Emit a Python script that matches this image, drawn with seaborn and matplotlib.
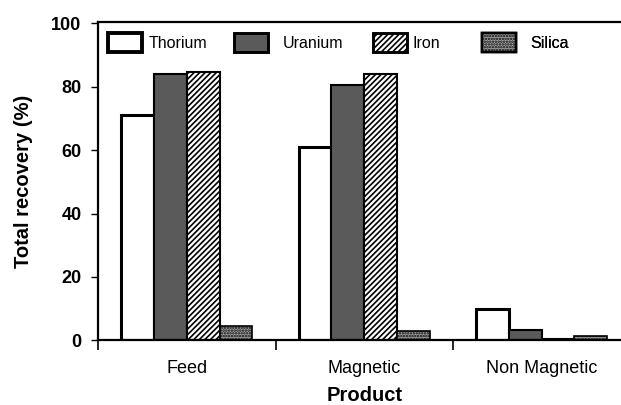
import matplotlib
matplotlib.use("Agg")
import matplotlib.pyplot as plt
import seaborn as sns
import pandas as pd
from matplotlib.patches import Patch

# Recovery of each element into each product stream
products = ["Feed", "Magnetic", "Non Magnetic"]
elements = ["Thorium", "Uranium", "Iron", "Silica"]
thorium = [71.0, 60.9, 10.0]
uranium = [84.0, 80.5, 3.2]
iron = [84.7, 84.0, 0.5]
silica = [4.5, 2.9, 1.2]

series = {"Thorium": thorium, "Uranium": uranium, "Iron": iron, "Silica": silica}
df = pd.DataFrame(
    [(p, el, v) for el in elements for p, v in zip(products, series[el])],
    columns=["Product", "Element", "Recovery"],
)

sns.set_theme(style="white")
plt.rcParams["font.family"] = ["Liberation Sans", "DejaVu Sans"]
plt.rcParams["hatch.linewidth"] = 1.2
for key in ["text.color", "axes.labelcolor", "xtick.color", "ytick.color"]:
    plt.rcParams[key] = "black"

fig = plt.figure(figsize=(6.21, 4.05), dpi=100)
ax = fig.add_axes([0.158, 0.160, 0.857, 0.786])

styles = {
    "Thorium": dict(fc="white", hatch=None, lw=2.2),
    "Uranium": dict(fc="#5a5a5a", hatch=None, lw=1.5),
    "Iron": dict(fc="white", hatch="//////", lw=1.5),
    "Silica": dict(fc="#a8a8a8", hatch="......", lw=1.2),
}

sns.barplot(data=df, x="Product", y="Recovery", hue="Element",
            hue_order=elements, order=products, width=0.74,
            palette=["white"] * 4, legend=False, ax=ax, saturation=1)

for el, cont in zip(elements, ax.containers):
    st = styles[el]
    for bar in cont:
        bar.set_facecolor(st["fc"])
        bar.set_edgecolor("black")
        bar.set_linewidth(st["lw"])
        if st["hatch"]:
            bar.set_hatch(st["hatch"])

ax.set_xlim(-0.5, 2.5)
ax.set_ylim(0, 100.5)
ax.set_yticks([0, 20, 40, 60, 80, 100])
ax.set_yticklabels(["0", "20", "40", "60", "80", "100"], fontweight="bold", fontsize=13)
ax.set_xticks(range(len(products)))
ax.set_xticklabels(products, fontsize=13)
ax.set_xticks([-0.5, 0.5, 1.5], minor=True)
ax.tick_params(axis="x", which="major", length=0, pad=14.5)
ax.tick_params(axis="x", which="minor", length=7, width=1.2, direction="out", bottom=True)
ax.tick_params(axis="y", which="major", length=5, width=1.0, direction="out", left=True, pad=7)

ax.set_xlabel("Product", fontweight="bold", fontsize=14.5, labelpad=6.5)
ax.set_ylabel("Total recovery (%)", fontweight="bold", fontsize=14.5, labelpad=13)

for side in ["left", "bottom", "top"]:
    ax.spines[side].set_visible(True)
    ax.spines[side].set_color("black")
    ax.spines[side].set_linewidth(1.6)
ax.spines["right"].set_visible(False)

# One legend entry per element, laid out across the top of the plot area
W, H = 621.0, 405.0
entry_x = [108, 234, 373, 482]
text_pad = [0.45, 0.95, 0.35, 0.95]
for el, x0, pad in zip(elements, entry_x, text_pad):
    st = styles[el]
    h = Patch(facecolor=st["fc"], edgecolor="black", hatch=st["hatch"],
              linewidth=st["lw"] + 0.6, label=el)
    leg = ax.legend(handles=[h], loc="upper left",
                    bbox_to_anchor=(x0 / W, 1 - 33 / H), bbox_transform=fig.transFigure,
                    frameon=False, fontsize=11.5, handlelength=2.1, handleheight=1.45,
                    handletextpad=pad, borderpad=0, borderaxespad=0)
    ax.add_artist(leg)

fig.savefig("out.png", dpi=100)
